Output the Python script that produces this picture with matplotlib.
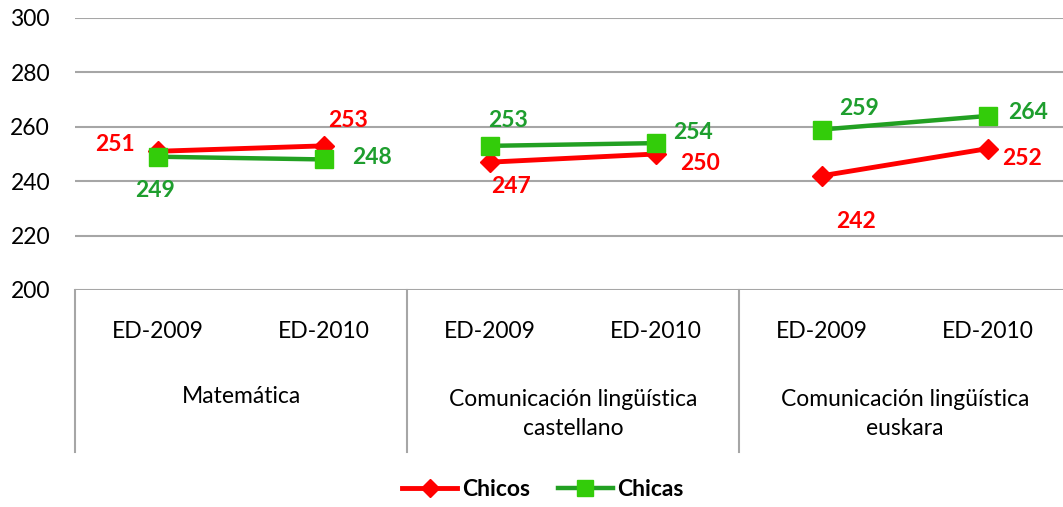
import matplotlib.pyplot as plt
from matplotlib.lines import Line2D

plt.rcParams['font.family'] = ['Lato', 'DejaVu Sans']

# Data
groups = ["Matemática", "Comunicación lingüística\ncastellano", "Comunicación lingüística\neuskara"]
years = ["ED-2009", "ED-2010"]
chicos = [251, 253, 247, 250, 242, 252]
chicas = [249, 248, 253, 254, 259, 264]

# label offsets (pixels, right / up)
off_chicos = [(-43, 7), (24, 25), (21, -24), (44, -10), (34, -46), (34, -10)]
off_chicas = [(-3, -34), (48, 2), (18, 25), (37, 11), (37, 21), (40, 3)]

red = "#FF0000"
green_line = "#22A022"
green_mark = "#33CC0A"
green_text = "#1E9E2E"
grid_col = "#A6A6A6"
fs = 16.5

fig = plt.figure(figsize=(10.63, 5.07), dpi=100)
W, H = 1063, 507
ax = fig.add_axes([75 / W, 1 - 290 / H, 996 / W, 272 / H])

x = list(range(len(groups) * len(years)))
for g in range(len(groups)):
    xs = x[2 * g:2 * g + 2]
    ax.plot(xs, chicos[2 * g:2 * g + 2], color=red, lw=3.5, marker="D", ms=10,
            mfc=red, mec=red, zorder=3)
for g in range(len(groups)):
    xs = x[2 * g:2 * g + 2]
    ax.plot(xs, chicas[2 * g:2 * g + 2], color=green_line, lw=3.2, marker="s", ms=13,
            mfc=green_mark, mec=green_mark, zorder=4)

for i in x:
    dx, dy = off_chicos[i]
    ax.annotate(str(chicos[i]), (i, chicos[i]), xytext=(dx * 0.72, dy * 0.72),
                textcoords="offset points", ha="center", va="center",
                color=red, fontsize=fs, fontweight="bold", zorder=5)
    dx, dy = off_chicas[i]
    ax.annotate(str(chicas[i]), (i, chicas[i]), xytext=(dx * 0.72, dy * 0.72),
                textcoords="offset points", ha="center", va="center",
                color=green_text, fontsize=fs, fontweight="bold", zorder=5)

ax.set_xlim(-0.5, len(x) - 0.5)
ax.set_ylim(200, 300)
ax.set_yticks(range(200, 301, 20))
ax.tick_params(axis="y", length=0, pad=18, labelsize=fs)
ax.set_xticks([])
ax.grid(axis="y", color=grid_col, lw=1.5)
ax.set_axisbelow(True)
for s in ax.spines.values():
    s.set_visible(False)

# category axis
tr = ax.get_xaxis_transform()
for i in x:
    ax.text(i, -0.154, years[i % 2], transform=tr, ha="center", va="center", fontsize=fs)
for g, name in enumerate(groups):
    yy = -0.393 if "\n" not in name else -0.456
    ax.text(2 * g + 0.5, yy, name, transform=tr, ha="center", va="center",
            fontsize=fs, linespacing=1.45)
for b in range(len(groups) + 1):
    ax.plot([2 * b - 0.5, 2 * b - 0.5], [0, -0.596], transform=tr, color=grid_col,
            lw=1.5, clip_on=False)

handles = [
    Line2D([], [], color=red, lw=3.5, marker="D", ms=9, mfc=red, mec=red),
    Line2D([], [], color=green_line, lw=3.2, marker="s", ms=12, mfc=green_mark, mec=green_mark),
]
leg = fig.legend(handles, ["Chicos", "Chicas"], loc="center", bbox_to_anchor=(543 / W, 1 - 490 / H),
                 ncol=2, frameon=False, handlelength=2.4, handletextpad=0.2, columnspacing=1.2,
                 prop={"size": fs, "weight": "bold"})

fig.savefig("out.png", dpi=100)
